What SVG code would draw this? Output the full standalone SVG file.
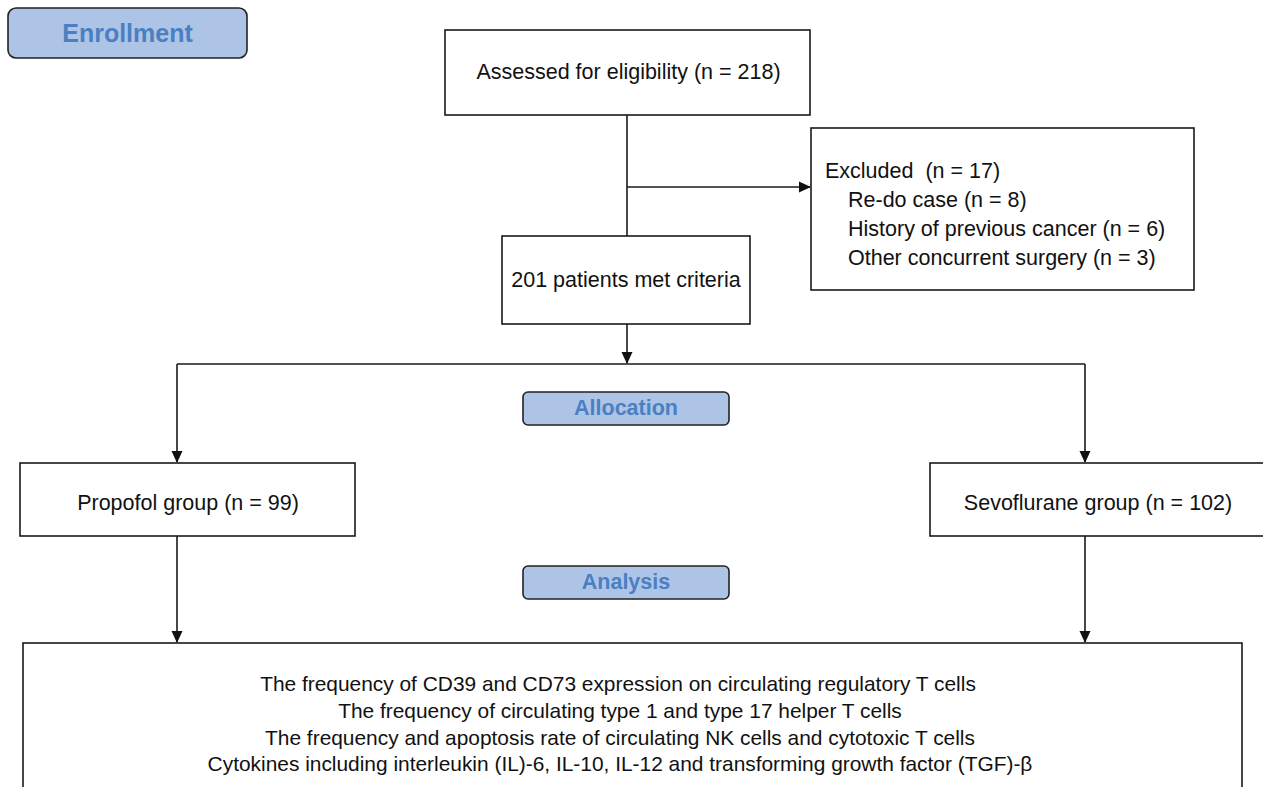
<svg xmlns="http://www.w3.org/2000/svg" width="1263" height="787" viewBox="0 0 1263 787">
<style>
.box{fill:#fff;stroke:#1a1a1a;stroke-width:1.6}
.hdr{fill:#adc4e6;stroke:#222;stroke-width:1.6}
.t{font-family:"Liberation Sans",Arial,sans-serif;font-size:21.5px;fill:#111}
.b{font-size:20.9px}
.h{font-family:"Liberation Sans",Arial,sans-serif;font-weight:bold;fill:#4a80c2}
.ln{stroke:#1a1a1a;stroke-width:1.6;fill:none}
</style>
<defs>
<marker id="arr" markerWidth="12" markerHeight="12" refX="11" refY="6" orient="auto" markerUnits="userSpaceOnUse">
<path d="M0,0.5 L12,6 L0,11.5 Z" fill="#111"/>
</marker>
</defs>
<rect width="1263" height="787" fill="#fff"/>
<g id="connectors">
<line class="ln" x1="627" y1="115" x2="627" y2="236"/>
<line class="ln" x1="627" y1="187" x2="810" y2="187" marker-end="url(#arr)"/>
<line class="ln" x1="627" y1="324" x2="627" y2="363" marker-end="url(#arr)"/>
<line class="ln" x1="177" y1="364" x2="1085" y2="364"/>
<line class="ln" x1="177" y1="364" x2="177" y2="462" marker-end="url(#arr)"/>
<line class="ln" x1="1085" y1="364" x2="1085" y2="462" marker-end="url(#arr)"/>
<line class="ln" x1="177" y1="536" x2="177" y2="642" marker-end="url(#arr)"/>
<line class="ln" x1="1085" y1="536" x2="1085" y2="642" marker-end="url(#arr)"/>
</g>
<g id="enrollment">
<rect class="hdr" x="8" y="8" width="239" height="50" rx="8"/>
<text class="h" x="127.5" y="42" font-size="25" text-anchor="middle">Enrollment</text>
</g>
<g id="assessed">
<rect class="box" x="445" y="30" width="365" height="85"/>
<text class="t" x="628.5" y="79" text-anchor="middle">Assessed for eligibility (n = 218)</text>
</g>
<g id="excluded">
<rect class="box" x="811" y="128" width="383" height="162"/>
<text class="t" x="825" y="178" xml:space="preserve" style="white-space:pre">Excluded  (n = 17)</text>
<text class="t" x="848" y="207">Re-do case (n = 8)</text>
<text class="t" x="848" y="236">History of previous cancer (n = 6)</text>
<text class="t" x="848" y="265">Other concurrent surgery (n = 3)</text>
</g>
<g id="met">
<rect class="box" x="502" y="236" width="248" height="88"/>
<text class="t" x="626" y="287" text-anchor="middle">201 patients met criteria</text>
</g>
<g id="allocation">
<rect class="hdr" x="523" y="392" width="206" height="33" rx="5"/>
<text class="h" x="626" y="415" font-size="21.5" text-anchor="middle">Allocation</text>
</g>
<g id="propofol">
<rect class="box" x="20" y="463" width="335" height="73"/>
<text class="t" x="188" y="510" text-anchor="middle">Propofol group (n = 99)</text>
</g>
<g id="sevoflurane">
<rect class="box" x="930" y="463" width="345" height="73"/>
<text class="t" x="1098" y="510" text-anchor="middle">Sevoflurane group (n = 102)</text>
</g>
<g id="analysis">
<rect class="hdr" x="523" y="566" width="206" height="33" rx="5"/>
<text class="h" x="626" y="589" font-size="21.5" text-anchor="middle">Analysis</text>
</g>
<g id="outcomes">
<rect class="box" x="23" y="643" width="1219" height="160"/>
<text class="t b" x="618" y="691" text-anchor="middle">The frequency of CD39 and CD73 expression on circulating regulatory T cells</text>
<text class="t b" x="620" y="718" text-anchor="middle">The frequency of circulating type 1 and type 17 helper T cells</text>
<text class="t b" x="620" y="745" text-anchor="middle">The frequency and apoptosis rate of circulating NK cells and cytotoxic T cells</text>
<text class="t b" x="620" y="771" text-anchor="middle">Cytokines including interleukin (IL)-6, IL-10, IL-12 and transforming growth factor (TGF)-β</text>
</g>
</svg>
